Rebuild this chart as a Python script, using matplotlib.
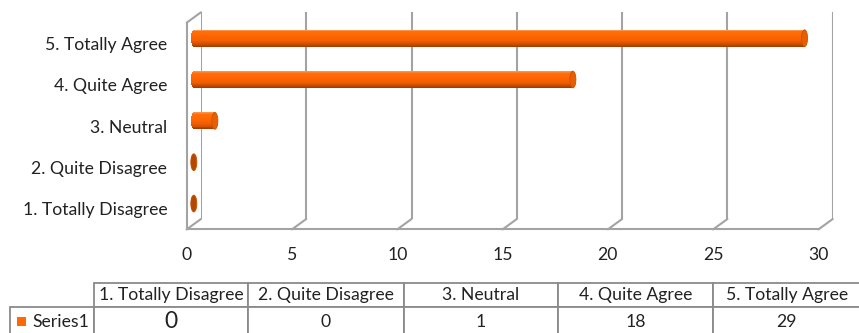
import numpy as np
import matplotlib
matplotlib.use("Agg")
import matplotlib.pyplot as plt
from matplotlib.patches import Ellipse, Rectangle, ConnectionPatch
from matplotlib.table import Table
from matplotlib.colors import to_rgb

# ---- data -------------------------------------------------------------
categories = ["1. Totally Disagree", "2. Quite Disagree", "3. Neutral",
              "4. Quite Agree", "5. Totally Agree"]
values = [0, 0, 1, 18, 29]
series_name = "Series1"
x_ticks = [0, 5, 10, 15, 20, 25, 30]
x_tick_labels = ["0", "5", "10", "15", "20", "25", "30"]

# ---- style ------------------------------------------------------------
plt.rcParams["font.family"] = ["Lato", "DejaVu Sans"]
TEXT = "#222222"
WALL = "#a3a3a3"
TABLE_EDGE = "#8a8a8a"
ORANGE = "#ff6a00"
LABEL_PT = 12.7

FW, FH = 859, 333
fig = plt.figure(figsize=(FW / 100, FH / 100), dpi=100)
fig.patch.set_facecolor("white")


def px_axes(left, top, right, bottom, **kw):
    """Add axes from pixel edges measured from the top-left corner."""
    return fig.add_axes([left / FW, 1 - bottom / FH,
                         (right - left) / FW, (bottom - top) / FH], **kw)


# three planes of the 3-D plot box: back wall, bar plane, front edge
UNIT = 21.06            # px per value unit
DXP, DYP = 7.15, 5.2    # depth offset of back / front plane, px
MX0, MTOP, MBOT = 193.8, 17.5, 224.2
MX1 = MX0 + 30 * UNIT

ax_back = px_axes(MX0 + DXP, MTOP - DYP, MX1 + DXP, MBOT - DYP, zorder=0)
ax_front = px_axes(MX0 - DXP, MTOP + DYP, MX1 - DXP, MBOT + DYP, zorder=1)
ax = px_axes(MX0, MTOP, MX1, MBOT, zorder=2)

ylim = (-0.5, len(categories) - 0.5)
for a in (ax_back, ax_front, ax):
    a.set_xlim(0, 30)
    a.set_ylim(*ylim)
    a.set_facecolor("none")
    for s in a.spines.values():
        s.set_visible(False)

# back wall: vertical gridlines
ax_back.set_xticks(x_ticks)
ax_back.set_yticks([])
ax_back.tick_params(axis="x", length=0, labelbottom=False)
ax_back.grid(axis="x", color=WALL, lw=1.5)

# front edge: floor line, left wall edge and the tick labels
ax_front.spines["bottom"].set_visible(True)
ax_front.spines["left"].set_visible(True)
for s in ("bottom", "left"):
    ax_front.spines[s].set_color(WALL)
    ax_front.spines[s].set_linewidth(1.5)
ax_front.set_xticks(x_ticks)
ax_front.set_xticklabels(x_tick_labels)
ax_front.set_yticks(range(len(categories)))
ax_front.set_yticklabels(categories)
ax_front.tick_params(axis="x", length=0, pad=12.5, labelsize=LABEL_PT,
                     labelcolor=TEXT)
ax_front.tick_params(axis="y", length=0, pad=14, labelsize=LABEL_PT,
                     labelcolor=TEXT)
for lab in ax_front.get_yticklabels():
    lab.set_verticalalignment("center_baseline")

# depth edges joining back wall and front edge
for v in x_ticks:
    fig.add_artist(ConnectionPatch(
        xyA=(v, ylim[0]), coordsA=ax_back.transData,
        xyB=(v, ylim[0]), coordsB=ax_front.transData,
        arrowstyle="-", shrinkA=0, shrinkB=0, color=WALL, lw=1.5))
fig.add_artist(ConnectionPatch(
    xyA=(0, ylim[1]), coordsA=ax_back.transData,
    xyB=(0, ylim[1]), coordsB=ax_front.transData,
    arrowstyle="-", shrinkA=0, shrinkB=0, color=WALL, lw=1.5))

# bar plane: shaded cylinders
ax.set_xticks([])
ax.set_yticks([])
BAR_H = 0.405
HALF_W = 3.0 / UNIT     # half width of the elliptic ends, value units
N_STRIP = 20
edges = np.linspace(1, -1, N_STRIP + 1)
tc = (edges[:-1] + edges[1:]) / 2
stops_t = [1.0, 0.75, 0.2, -0.35, -0.75, -1.0]
stops_c = np.array([to_rgb(c) for c in
                    ("#ff9a55", "#ff6e0a", "#ff6600", "#f25f00",
                     "#c84c00", "#9a3a00")])
strip_cols = [tuple(np.interp(-t, [-s for s in stops_t], stops_c[:, i])
                    for i in range(3)) for t in tc]

for k, v in enumerate(values):
    for t, col in zip(tc, strip_cols):
        ext = HALF_W * np.sqrt(max(0.0, 1 - t * t))
        ax.barh(k + t * BAR_H / 2, v + ext, height=BAR_H / N_STRIP * 1.15,
                left=-ext, color=col, lw=0, clip_on=False)
    cap_fc = "#b54800" if v == 0 else "#e85e00"
    ax.add_patch(Ellipse((v, k), 2 * HALF_W, BAR_H, facecolor=cap_fc,
                         edgecolor="#c85200", lw=0.6, clip_on=False))

# ---- data table -------------------------------------------------------
ax_tab = fig.add_axes([0, 0, 1, 1], zorder=-1)
ax_tab.set_xlim(0, FW)
ax_tab.set_ylim(FH, 0)
ax_tab.axis("off")

col_px = [10.0, 94.3, 248.0, 403.5, 558.0, 713.3, 860.0]
T_TOP = 283.3
head_h, row_h = 23.2, 30.5
grid_left = col_px[1]
tab = Table(ax_tab, bbox=[grid_left / FW, 1 - (T_TOP + head_h + row_h) / FH,
                          (col_px[-1] - grid_left) / FW,
                          (head_h + row_h) / FH])
tab.auto_set_font_size(False)
for j, cat in enumerate(categories):
    w = (col_px[j + 2] - col_px[j + 1]) / FW
    c = tab.add_cell(0, j, w, head_h / FH, text=cat, loc="center")
    c.get_text().set_fontsize(LABEL_PT)
    c.get_text().set_color(TEXT)
    d = tab.add_cell(1, j, w, row_h / FH, text=str(values[j]), loc="center")
    d.get_text().set_fontsize(LABEL_PT * (1.3 if j == 0 else 1.0))
    d.get_text().set_color(TEXT)
r = tab.add_cell(1, -1, (col_px[1] - col_px[0]) / FW, row_h / FH,
                 text=series_name, loc="left")
r.PAD = 0.26
r.get_text().set_fontsize(LABEL_PT)
r.get_text().set_color(TEXT)
for cell in tab.get_celld().values():
    cell.set_edgecolor(TABLE_EDGE)
    cell.set_linewidth(1.3)
    cell.set_facecolor("white")
ax_tab.add_table(tab)

# legend key in front of the series name
ax_tab.add_patch(Rectangle((17.3, 316.7), 8.7, 9.0, facecolor=ORANGE,
                           edgecolor="none", zorder=5))

fig.savefig("out.png", dpi=100, facecolor="white")
